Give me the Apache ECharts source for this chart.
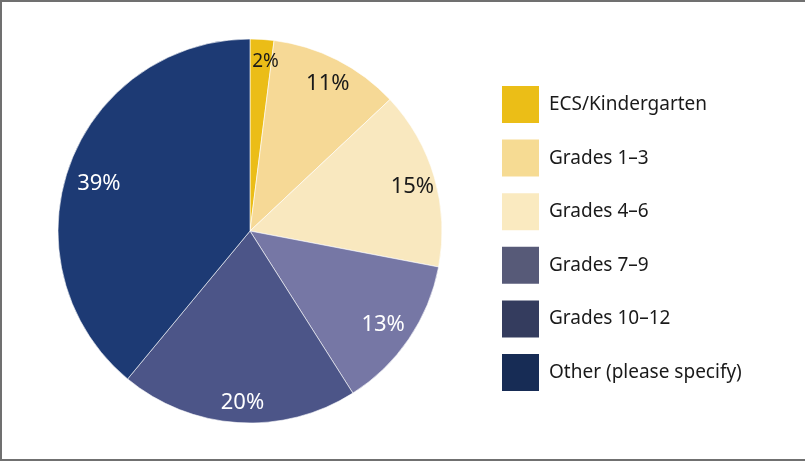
<!DOCTYPE html>
<html>
<head>
<meta charset="utf-8">
<script src="https://cdn.jsdelivr.net/npm/echarts@6/dist/echarts.min.js"></script>
<style>
  html, body { margin: 0; padding: 0; background: #fff; }
  #chart {
    width: 805px;
    height: 461px;
    box-sizing: border-box;
    border-top: 2px solid #707070;
    border-left: 2px solid #707070;
    border-bottom: 2px solid #707070;
  }
</style>
</head>
<body>
<div id="chart"></div>
<script>
var categories = ['ECS/Kindergarten', 'Grades 1–3', 'Grades 4–6', 'Grades 7–9', 'Grades 10–12', 'Other (please specify)']
var values = [2, 11, 15, 13, 20, 39]
var sliceColors = ['#ebbd17', '#f6d996', '#f9e8bf', '#7677a5', '#4c5588', '#1d3a74']
var legendColors = ['#ebbe17', '#f6db93', '#faeac0', '#575a78', '#343c5e', '#172c55']
var labelColors = ['#1a1a1a', '#1a1a1a', '#1a1a1a', '#ffffff', '#ffffff', '#ffffff']

var fontName = '"Noto Sans", sans-serif'

var chartDom = document.getElementById('chart')
var myChart = echarts.init(chartDom)

// small nudges so the labels sit like in the printed chart
function labelNudge(i) {
  if (i === 0) return [5, -3]
  if (i === 3) return [-5, 0]
  if (i === 4) return [3, 5]
  if (i === 5) return [6, 9]
  return [2, 2]
}

var pieData = []
var labelData = []
for (let i = 0; i < categories.length; i++) {
  pieData.push({
    name: categories[i],
    value: values[i],
    itemStyle: { color: sliceColors[i] }
  })
  labelData.push({
    name: categories[i],
    value: values[i],
    label: {
      color: labelColors[i],
      fontSize: i === 0 ? 19 : 22,
      offset: labelNudge(i)
    }
  })
}

var legendData = categories.map(function(name, i) {
  return { name: name, itemStyle: { color: legendColors[i] } }
})

// canvas sits 2px inside the border, so positions are shifted by -2
var option = {
  animation: false,
  legend: {
    orient: 'vertical',
    left: 493,
    top: 77,
    icon: 'rect',
    itemWidth: 39,
    itemHeight: 39,
    itemGap: 12.6,
    data: legendData,
    textStyle: {
      fontFamily: fontName,
      fontSize: 19,
      color: '#1a1a1a',
      padding: [0, 0, 0, 4]
    }
  },
  series: [
    {
      type: 'pie',
      center: [248, 229],
      radius: [0, 192],
      startAngle: 90,
      clockwise: true,
      label: { show: false },
      labelLine: { show: false },
      itemStyle: { borderColor: '#ffffff', borderWidth: 0.6 },
      emphasis: { disabled: true },
      data: pieData
    },
    {
      type: 'pie',
      center: [248, 229],
      radius: [136, 192],
      startAngle: 90,
      clockwise: true,
      silent: true,
      itemStyle: { color: 'rgba(0,0,0,0)' },
      label: {
        show: true,
        position: 'inside',
        formatter: '{c}%',
        fontFamily: fontName
      },
      labelLine: { show: false },
      emphasis: { disabled: true },
      data: labelData
    }
  ]
}

option && myChart.setOption(option)
</script>
</body>
</html>
